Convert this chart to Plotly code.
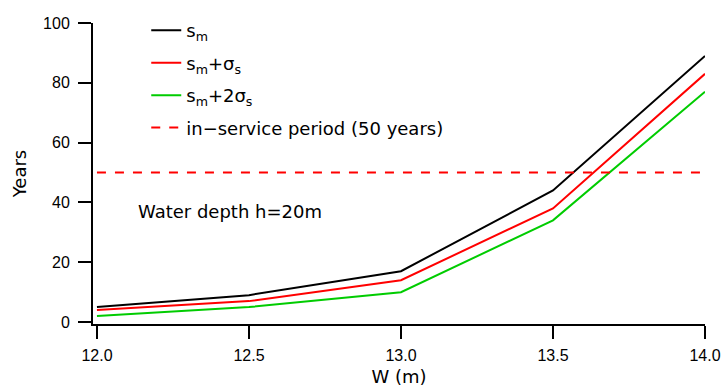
import plotly.graph_objects as go

W = [12.0, 12.5, 13.0, 13.5, 14.0]
s_m = [5, 9, 17, 44, 89]
s_m_sigma = [4, 7, 14, 38, 83]
s_m_2sigma = [2, 5, 10, 34, 77]
service_x = [12.0, 14.0]
service_y = [50, 50]
x_ticks = [12.0, 12.5, 13.0, 13.5, 14.0]
x_tick_labels = ["12.0", "12.5", "13.0", "13.5", "14.0"]
y_ticks = [0, 20, 40, 60, 80, 100]

TICKFONT = "Liberation Sans"
FONT = "DejaVu Sans"

fig = go.Figure()
fig.add_trace(go.Scatter(x=W, y=s_m, mode="lines", name="s<sub>m</sub>", legendgroup="a",
                         line=dict(color="black", width=2)))
fig.add_trace(go.Scatter(x=W, y=s_m_sigma, mode="lines", name="s<sub>m</sub>+σ<sub>s</sub>",
                         legendgroup="b", line=dict(color="#ff0000", width=2)))
fig.add_trace(go.Scatter(x=W, y=s_m_2sigma, mode="lines", name="s<sub>m</sub>+2σ<sub>s</sub>",
                         legendgroup="c", line=dict(color="#00cc00", width=2)))
fig.add_trace(go.Scatter(x=service_x, y=service_y, mode="lines",
                         name="in−service period (50 years)", legendgroup="d",
                         line=dict(color="#ff0000", width=2, dash="dash")))

fig.add_annotation(x=12.128, y=37, xref="x", yref="y", text="Water depth h=20m",
                   showarrow=False, xanchor="left", yanchor="middle",
                   font=dict(family=FONT, size=18, color="black"))

fig.update_layout(
    width=721, height=387,
    margin=dict(l=93, r=16, t=17, b=63),
    paper_bgcolor="white", plot_bgcolor="white",
    font=dict(family=FONT, size=16, color="black"),
    showlegend=True,
    legend=dict(x=0.087, y=1.036, xanchor="left", yanchor="top",
                bgcolor="rgba(0,0,0,0)", font=dict(family=FONT, size=18),
                itemwidth=30, tracegroupgap=6),
    xaxis=dict(range=[11.987, 14.0], tickvals=x_ticks, ticktext=x_tick_labels,
               showgrid=False, zeroline=False, showline=True, linecolor="black",
               linewidth=2, ticks="outside", ticklen=13, tickwidth=2, tickcolor="black",
               automargin=False, tickfont=dict(family=TICKFONT, size=16),
               ticklabelstandoff=3,
               title=dict(text="W (m)", standoff=8, font=dict(family=FONT, size=18))),
    yaxis=dict(range=[-0.65, 100], tickvals=y_ticks,
               showgrid=False, zeroline=False, showline=True, linecolor="black",
               linewidth=2, ticks="outside", ticklen=13, tickwidth=2, tickcolor="black",
               automargin=False, tickfont=dict(family=TICKFONT, size=16),
               ticklabelstandoff=5,
               title=dict(text="Years", standoff=12, font=dict(family=FONT, size=18))),
)

fig.write_html("out.html", config={"displayModeBar": False},
               post_script="document.body.style.margin='0';")
